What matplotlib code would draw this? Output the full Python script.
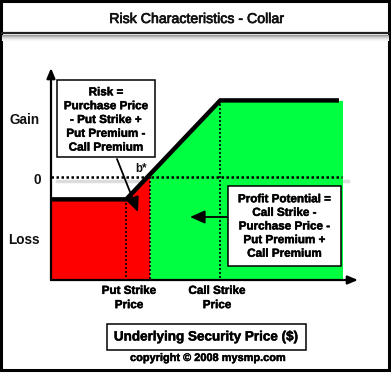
import matplotlib.pyplot as plt
import matplotlib.patheffects as pe
from matplotlib.patches import Rectangle

plt.rcParams['font.family'] = ['Liberation Sans', 'DejaVu Sans']

# Datos del collar (unidades de precio / beneficio)
precio = [0, 32, 72, 122.5]
beneficio = [-9, -9, 31, 31]
put_strike = 32
call_strike = 72
break_even = 42
fin_zona = 124

# Zonas de pérdida (roja) y beneficio (verde)
roja_x = [0, 32, 42]
roja_y = [-9, -9, 1]
verde_x = [42, 72, 124]
verde_y = [1, 31, 31]

texto_riesgo = 'Risk =\nPurchase Price\n- Put Strike +\nPut Premium -\nCall Premium'
texto_beneficio = 'Profit Potential =\nCall Strike -\nPurchase Price -\nPut Premium +\nCall Premium'

W, H = 391, 373
fig = plt.figure(figsize=(W / 100, H / 100), dpi=100)

# Ejes de datos
ax = fig.add_axes([51 / W, 1 - 280 / H, 307 / W, 212 / H])
ymin, ymax = -41.6, 44.1
ax.set_xlim(0, 130.6)
ax.set_ylim(ymin, ymax)
ax.axis('off')

# sombra gris bajo la linea de cero
ax.plot([2.5, 126.5], [-1.7, -1.7], color='#dcdcdc', lw=2.5, zorder=0)

ax.fill_between(roja_x, roja_y, ymin, color='#ff0000', lw=0, zorder=1)
ax.fill_between(verde_x, verde_y, ymin, color='#00ff40', lw=0, zorder=1)

# lineas punteadas
ax.plot([0, fin_zona], [0, 0], color='black', lw=1.8, ls=(0, (1, 1)), zorder=2)
ax.plot([put_strike, put_strike], [beneficio[1], ymin], color='black', lw=1.2, ls=(0, (1.2, 1.2)), zorder=2)
ax.plot([break_even, break_even], [0, ymin], color='black', lw=1.2, ls=(0, (1.2, 1.2)), zorder=2)
ax.plot([call_strike, call_strike], [beneficio[2], ymin], color='black', lw=1.2, ls=(0, (1.2, 1.2)), zorder=2)

# curva de beneficio
ax.plot(precio, beneficio, color='black', lw=3.2, solid_capstyle='butt', solid_joinstyle='miter', zorder=3)

# ejes con flechas
flecha = dict(arrowstyle='-|>,head_length=0.6,head_width=0.25', color='black', lw=1.6, shrinkA=0, shrinkB=0)
ax.annotate('', xy=(0, 1), xytext=(0, 0), xycoords='axes fraction', arrowprops=flecha, annotation_clip=False)
ax.annotate('', xy=(1, 0), xytext=(0, 0), xycoords='axes fraction', arrowprops=flecha, annotation_clip=False)

# Capa de decoración en píxeles
ov = fig.add_axes([0, 0, 1, 1])
ov.set_xlim(0, W)
ov.set_ylim(H, 0)
ov.axis('off')
ov.patch.set_alpha(0)

grueso = [pe.withStroke(linewidth=0.35, foreground='#111111')]

# marco exterior y titulo
ov.add_patch(Rectangle((1.2, 1.2), W - 3.4, H - 4.4, fill=False, ec='black', lw=2.2))
for i, c in enumerate(['#9a9a9a', '#b8b8b8', '#d0d0d0', '#e2e2e2', '#eeeeee', '#f6f6f6']):
    ov.plot([2, W - 3], [35 + i, 35 + i], color=c, lw=0.8)
ov.plot([2, W - 2], [33, 33], color='#222222', lw=1.6)
ov.text(197, 19, 'Risk Characteristics - Collar', ha='center', va='center', fontsize=10.2,
        color='#111111', path_effects=[pe.withStroke(linewidth=0.5, foreground='#111111')])

# etiquetas eje y
ov.text(25, 120, 'Gain', ha='center', va='center', fontsize=9.8, fontweight='bold', color='#111111')
ov.text(37, 180, '0', ha='center', va='center', fontsize=9.8, fontweight='bold', color='#111111')
ov.text(24, 240, 'Loss', ha='center', va='center', fontsize=9.8, fontweight='bold', color='#111111')
ov.text(141, 169, 'b*', ha='center', va='center', fontsize=8.3, fontweight='bold', color='#111111')

# etiquetas eje x
ov.text(129, 298, 'Put Strike\nPrice', ha='center', va='center', fontsize=8.4, fontweight='bold',
        linespacing=1.25, path_effects=grueso)
ov.text(217, 298, 'Call Strike\nPrice', ha='center', va='center', fontsize=8.4, fontweight='bold',
        linespacing=1.25, path_effects=grueso)

# cajas de texto
ov.add_patch(Rectangle((57, 80), 98, 77, fc='white', ec='black', lw=1.1, zorder=4))
ov.text(106, 120, texto_riesgo, ha='center', va='center', fontsize=8.4, fontweight='bold',
        linespacing=1.2, zorder=5, path_effects=grueso)
ov.add_patch(Rectangle((228, 186), 113, 80, fc='white', ec='black', lw=1.1, zorder=4))
ov.text(284.5, 226.5, texto_beneficio, ha='center', va='center', fontsize=8.4, fontweight='bold',
        linespacing=1.18, zorder=5, path_effects=grueso)

flecha2 = dict(arrowstyle='-|>,head_length=0.9,head_width=0.4', color='black', lw=1.3, shrinkA=0, shrinkB=0)
ov.annotate('', xy=(138, 212), xytext=(117, 159), arrowprops=flecha2)
ov.annotate('', xy=(190, 217), xytext=(227, 217), arrowprops=flecha2)

ov.add_patch(Rectangle((107, 324), 199, 26, fc='white', ec='black', lw=1.1))
ov.text(206.5, 337.5, 'Underlying Security Price ($)', ha='center', va='center', fontsize=9.7,
        fontweight='bold', path_effects=grueso)
ov.text(208, 358, 'copyright © 2008 mysmp.com', ha='center', va='center', fontsize=7.9,
        fontweight='bold', path_effects=grueso)

plt.savefig('out.png', dpi=100)
